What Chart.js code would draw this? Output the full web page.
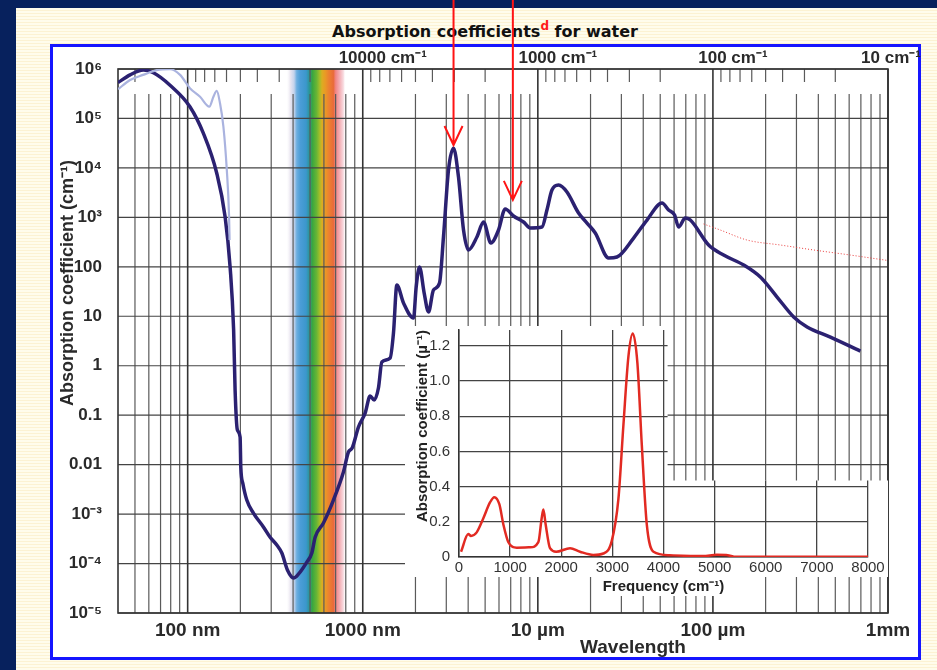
<!DOCTYPE html>
<html lang="en">
<head>
<meta charset="UTF-8">
<title>Absorption coefficients for water</title>
<script src="https://cdn.jsdelivr.net/npm/chart.js"></script>
<style>
    body {
        margin: 0;
        width: 937px;
        height: 670px;
        overflow: hidden;
        position: relative;
        background: #07215d;
        font-family: 'Liberation Sans', Arial, sans-serif;
    }

    #paper {
        position: absolute;
        left: 16px; top: 8px; right: 0; bottom: 0;
        background: repeating-linear-gradient(#fffcec 0 2px, #fcf2d3 2px 3px);
    }

    #frame {
        position: absolute;
        left: 50px; top: 44px;
        width: 871px; height: 616px;
        box-sizing: border-box;
        border: 3px solid #1616ff;
        background: #fff;
    }

    #title {
        position: absolute;
        left: 0; top: 22px;
        width: 970px;
        text-align: center;
        font-family: 'DejaVu Sans', Verdana, sans-serif;
        font-weight: bold;
        font-size: 16px;
        line-height: 20px;
        color: #111;
    }

    #title span {
        color: #ff1a1a;
        font-size: 12px;
        position: relative;
        top: -7px;
    }

    canvas { position: absolute; }
    #mainChart { left: 0; top: 0; }
    #insetChart { left: 400px; top: 312px; }
</style>
</head>
<body>
<div id="paper"></div>
<div id="frame"></div>
<div id="title">Absorption coefficients<span>d</span> for water</div>
<canvas id="mainChart" width="937" height="670"></canvas>
<canvas id="insetChart" width="490" height="290"></canvas>

<script>
// liquid water, wavelength (nm) vs absorption coefficient (cm^-1)
const waveNm = [40, 46.9, 55.8, 63.7, 79.3, 103, 123, 146.6, 163.6, 174.7, 183, 186.6, 192.3, 199.3, 201.1,
    206.5, 217.6, 237.4, 270.7, 295.8, 323, 345, 371.3, 402.9, 429.1, 479.3, 511.9, 534.6, 596.3, 680,
    775.7, 828.4, 869.9, 944.9, 1032, 1102, 1162, 1229, 1286, 1434, 1498, 1566, 1709, 1949, 2019,
    2109, 2243, 2374, 2535, 2744, 2891, 3088, 3299, 3523, 3763, 4018, 4487, 4896, 5395, 5963,
    6512, 7262, 8284, 9052, 10554, 11272, 12039, 13133, 14667, 17082, 19083, 21281, 25354, 28313, 35237,
    42020, 51196, 55832, 60391, 63680, 69551, 74286, 94500, 115100, 149800, 186600, 232500, 289200, 345000, 468800,
    695500];
const absorb = [5.3e5, 7.6e5, 9.5e5, 8.4e5, 4.7e5, 1.73e5, 5.0e4, 7.8e3, 1030, 100, 5.3, 0.32, 0.05, 0.036, 8.9e-3,
    4.2e-3, 1.92e-3, 1.05e-3, 5.5e-4, 3.4e-4, 2.37e-4, 1.63e-4, 7.4e-5, 5.1e-5, 6.1e-5, 1.07e-4, 1.63e-4, 3.4e-4, 6.6e-4, 1.92e-3,
    7.1e-3, 0.018, 0.0217, 0.0575, 0.11, 0.244, 0.202, 0.354, 1.19, 1.43, 4.6, 42.9, 18.5, 9.2, 39,
    99, 29.5, 12.2, 34, 47, 401, 9100, 2.5e4, 6500, 555, 219, 401, 805, 303, 555,
    1476, 1065, 805, 610, 638, 1410, 3574, 4510, 3260, 1225, 769, 482, 151, 158, 382,
    883, 1950, 1410, 1115, 638, 970, 883, 276, 173, 109, 62, 24.5, 9.7, 6.1, 3.8,
    1.98];

// lighter far-UV trace
const uvNm = [40, 46.9, 55.6, 66.6, 79.3, 90.5, 103, 117.7, 133, 140.3, 146.6, 153.1, 160, 167.3, 172.4, 173.5];
const uvAbsorb = [3.9e5, 6.0e5, 7.6e5, 9.5e5, 9.9e5, 7.6e5, 4.1e5, 2.75e5, 1.73e5, 2.75e5, 3.6e5, 2.0e5, 6.8e4, 9100, 1030, 348];

// dotted far-IR trace
const farIrNm = [88480, 110200, 156600, 242700, 376200, 609500, 1e6];
const farIrAbsorb = [735, 555, 348, 276, 219, 173, 134];

// inset: frequency (cm^-1) vs absorption coefficient (µ^-1)
const insetFreq = [40, 182, 234, 346, 476, 606, 691, 789, 868, 966, 1129, 1390, 1552, 1617, 1650, 1695, 1780, 1900,
    2172, 2367, 2627, 2823, 2987, 3118, 3216, 3314, 3399, 3490, 3575, 3673, 3804, 4120, 4770, 5042, 5225, 5380,
    6000, 7000, 8000];
const insetAbs = [0.03, 0.13, 0.12, 0.14, 0.22, 0.31, 0.34, 0.30, 0.185, 0.084, 0.053, 0.055, 0.084, 0.22, 0.27, 0.185, 0.05, 0.03,
    0.05, 0.03, 0.012, 0.02, 0.09, 0.33, 0.75, 1.14, 1.27, 1.10, 0.64, 0.185, 0.03, 0.01, 0.005, 0.013, 0.012, 0.002,
    0.002, 0.002, 0.002];

// axes
const bottomTickNm = [100, 1000, 1e4, 1e5, 1e6];
const bottomTickLabels = ['100 nm', '1000 nm', '10 µm', '100 µm', '1mm'];
const topTickCm = [10, 100, 1000, 10000];
const topTickLabels = ['10 cm⁻¹', '100 cm⁻¹', '1000 cm⁻¹', '10000 cm⁻¹'];
const yTickValues = [1e-5, 1e-4, 1e-3, 0.01, 0.1, 1, 10, 100, 1e3, 1e4, 1e5, 1e6];
const yTickLabels = ['10⁻⁵', '10⁻⁴', '10⁻³', '0.01', '0.1', '1', '10', '100', '10³', '10⁴', '10⁵', '10⁶'];
const insetXTicks = [0, 1000, 2000, 3000, 4000, 5000, 6000, 7000, 8000];
const insetYTicks = [0, 0.2, 0.4, 0.6, 0.8, 1.0, 1.2];

// visible band and the two arrows
const visibleNm = [365, 385, 405, 420, 440, 475, 495, 515, 545, 565, 585, 610, 640, 680, 700, 740, 775, 800];
const visibleColours = ['rgba(255,255,255,0)', '#ebe7f1', '#c4d3ec', '#6caee0', '#4b9dd7', '#3b97cc', '#2a9597',
    '#39a63f', '#68b535', '#9dbd2b', '#dbad22', '#e99a25', '#ec8130', '#e96b39', '#f08585', '#f4b1b7', '#f8dbe0',
    'rgba(255,255,255,0)'];
const arrowNm = [3300, 7200];
const arrowTipAbsorb = [2.9e4, 2250];

const FONT = "'Liberation Sans', Arial, sans-serif";
Chart.defaults.font.family = FONT;

const pts = (xs, ys) => xs.map((v, i) => ({x: v, y: ys[i]}));

const waterGrid = {
    id: 'waterGrid',
    beforeDatasetsDraw(chart) {
        const {ctx, chartArea: a, scales: {x, x2, y}} = chart;
        ctx.save();

        // visible spectrum
        const b0 = x.getPixelForValue(visibleNm[0]);
        const b1 = x.getPixelForValue(visibleNm[visibleNm.length - 1]);
        const g = ctx.createLinearGradient(b0, 0, b1, 0);
        visibleNm.forEach((nm, i) => g.addColorStop((x.getPixelForValue(nm) - b0) / (b1 - b0), visibleColours[i]));
        ctx.fillStyle = g;
        ctx.fillRect(b0, a.top, b1 - b0, a.bottom - a.top);

        const line = (x0, y0, x1, y1) => { ctx.beginPath(); ctx.moveTo(x0, y0); ctx.lineTo(x1, y1); ctx.stroke(); };

        // minor wavelength lines
        ctx.strokeStyle = '#5a5a5a';
        ctx.lineWidth = 1.2;
        for (let d = 10; d < 1e6; d *= 10) {
            for (let m = 2; m < 10; m++) {
                const v = m * d;
                if (v <= x.min || v >= x.max) continue;
                const px = x.getPixelForValue(v);
                line(px, a.top + 25, px, a.bottom);
            }
        }
        // minor wavenumber ticks along the top
        for (let d = 10; d < 1e6; d *= 10) {
            for (let m = 2; m < 10; m++) {
                const v = m * d;
                if (v <= x2.min || v >= x2.max) continue;
                const px = x2.getPixelForValue(v);
                line(px, a.top, px, a.top + 13);
            }
        }
        // decades
        ctx.strokeStyle = '#444';
        yTickValues.forEach(v => { const py = y.getPixelForValue(v); line(a.left, py, a.right, py); });
        ctx.strokeStyle = '#333';
        ctx.lineWidth = 1.6;
        bottomTickNm.forEach(v => { const px = x.getPixelForValue(v); line(px, a.top, px, a.bottom); });
        ctx.strokeRect(a.left, a.top, a.right - a.left, a.bottom - a.top);
        ctx.restore();
    },
    afterDraw(chart) {
        const {ctx, scales: {x, y}} = chart;
        ctx.save();
        ctx.strokeStyle = '#ff1414';
        ctx.lineWidth = 2;
        arrowNm.forEach((nm, i) => {
            const px = x.getPixelForValue(nm);
            const tip = y.getPixelForValue(arrowTipAbsorb[i]);
            ctx.beginPath();
            ctx.moveTo(px, 0);
            ctx.lineTo(px, tip);
            ctx.moveTo(px - 9, tip - 19);
            ctx.lineTo(px, tip);
            ctx.lineTo(px + 9, tip - 19);
            ctx.stroke();
        });

        // axis titles
        ctx.fillStyle = '#2a2a2a';
        ctx.textAlign = 'center';
        ctx.textBaseline = 'middle';
        ctx.font = 'bold 19px ' + FONT;
        ctx.fillText('Wavelength', 633, 648);
        ctx.translate(68, 283);
        ctx.rotate(-Math.PI / 2);
        ctx.font = 'bold 18px ' + FONT;
        ctx.fillText('Absorption coefficient (cm⁻¹)', 0, 0);
        ctx.restore();
    }
};

const tickFont = size => ({family: FONT, size: size, weight: 'bold'});

new Chart(document.getElementById('mainChart'), {
    type: 'line',
    data: {
        datasets: [
            {data: pts(uvNm, uvAbsorb), borderColor: '#aab3df', borderWidth: 2.2},
            {data: pts(waveNm, absorb), borderColor: '#2b2171', borderWidth: 3.5},
            {data: pts(farIrNm, farIrAbsorb), borderColor: '#e83a3a', borderWidth: 1, borderDash: [1, 2]}
        ]
    },
    options: {
        responsive: false,
        animation: false,
        events: [],
        elements: {
            point: {radius: 0},
            line: {cubicInterpolationMode: 'monotone'}
        },
        layout: {padding: {left: 0, right: 49, top: 0, bottom: 0}},
        plugins: {legend: {display: false}, tooltip: {enabled: false}},
        scales: {
            x: {
                type: 'logarithmic',
                position: 'bottom',
                min: 40,
                max: 1e6,
                afterBuildTicks: s => { s.ticks = bottomTickNm.map(v => ({value: v})); },
                afterFit: s => { s.height = 57; },
                grid: {display: false},
                border: {display: false},
                ticks: {
                    autoSkip: false, maxRotation: 0, padding: -2,
                    color: '#2a2a2a', font: tickFont(19),
                    callback: (v, i) => bottomTickLabels[i]
                }
            },
            x2: {
                type: 'logarithmic',
                axis: 'x',
                position: 'top',
                reverse: true,
                min: 10,
                max: 250000,
                afterBuildTicks: s => { s.ticks = topTickCm.map(v => ({value: v})); },
                afterFit: s => { s.height = 69; },
                grid: {display: false},
                border: {display: false},
                ticks: {
                    autoSkip: false, maxRotation: 0, padding: -8, labelOffset: 20,
                    color: '#2a2a2a', font: tickFont(17),
                    // the last label is pulled back inside the frame
                    callback: (v, i) => i === 0 ? topTickLabels[i] + '\u2003\u2003' : topTickLabels[i]
                }
            },
            y: {
                type: 'logarithmic',
                min: 1e-5,
                max: 1e6,
                afterBuildTicks: s => { s.ticks = yTickValues.map(v => ({value: v})); },
                afterFit: s => { s.width = 118; },
                grid: {display: false},
                border: {display: false},
                ticks: {
                    autoSkip: false, padding: 8,
                    color: '#2a2a2a', font: tickFont(17),
                    callback: (v, i) => yTickLabels[i]
                }
            }
        }
    },
    plugins: [waterGrid]
});

// the inset only blanks out an L-shaped area of the main chart
const insetMask = {
    id: 'insetMask',
    beforeDraw(chart) {
        const {ctx, chartArea: a, scales: {x, y}} = chart;
        const cx = x.getPixelForValue(4080);
        const cy = y.getPixelForValue(0.435);
        const mid = (a.left + a.right) / 2;
        ctx.save();
        ctx.beginPath();
        ctx.rect(a.left - 54, a.top - 4, cx - a.left + 54, a.bottom - a.top + 24);
        ctx.rect(a.left - 54, cy, a.right - a.left + 74, a.bottom - cy + 20);
        ctx.rect(mid - 68, a.bottom, 136, 39);
        ctx.fillStyle = '#fff';
        ctx.fill();
        ctx.clip();
    },
    afterDraw(chart) {
        chart.ctx.restore();
    }
};

new Chart(document.getElementById('insetChart'), {
    type: 'line',
    data: {
        datasets: [{
            data: pts(insetFreq, insetAbs),
            borderColor: '#e22a22',
            borderWidth: 2.5,
            pointRadius: 0,
            cubicInterpolationMode: 'monotone'
        }]
    },
    options: {
        responsive: false,
        animation: false,
        events: [],
        layout: {padding: {left: 0, right: 22, top: 10, bottom: 0}},
        plugins: {legend: {display: false}, tooltip: {enabled: false}},
        scales: {
            x: {
                type: 'linear',
                min: 0,
                max: 8000,
                afterBuildTicks: s => { s.ticks = insetXTicks.map(v => ({value: v})); },
                afterFit: s => { s.height = 45; },
                grid: {color: '#444', lineWidth: 1.3, drawTicks: false},
                border: {color: '#333', width: 1.5},
                ticks: {
                    autoSkip: false, maxRotation: 0, padding: 2,
                    color: '#333', font: {family: FONT, size: 15},
                    callback: v => String(v)
                },
                title: {
                    display: true, text: 'Frequency (cm⁻¹)', color: '#222',
                    font: {family: FONT, size: 15, weight: 'bold'},
                    padding: {top: 0, bottom: 6}
                }
            },
            y: {
                type: 'linear',
                min: 0,
                max: 1.29,
                afterBuildTicks: s => { s.ticks = insetYTicks.map(v => ({value: v})); },
                afterFit: s => { s.width = 59; },
                grid: {color: '#444', lineWidth: 1.3, drawTicks: false},
                border: {color: '#333', width: 1.5},
                ticks: {
                    autoSkip: false, padding: 9,
                    color: '#333', font: {family: FONT, size: 15},
                    callback: v => v === 0 ? '0' : v.toFixed(1)
                },
                title: {
                    display: true, align: 'end', text: 'Absorption coefficient (µ⁻¹)', color: '#222',
                    font: {family: FONT, size: 15, weight: 'bold'},
                    padding: {top: 14, bottom: 0}
                }
            }
        }
    },
    plugins: [insetMask]
});
</script>
</body>
</html>
